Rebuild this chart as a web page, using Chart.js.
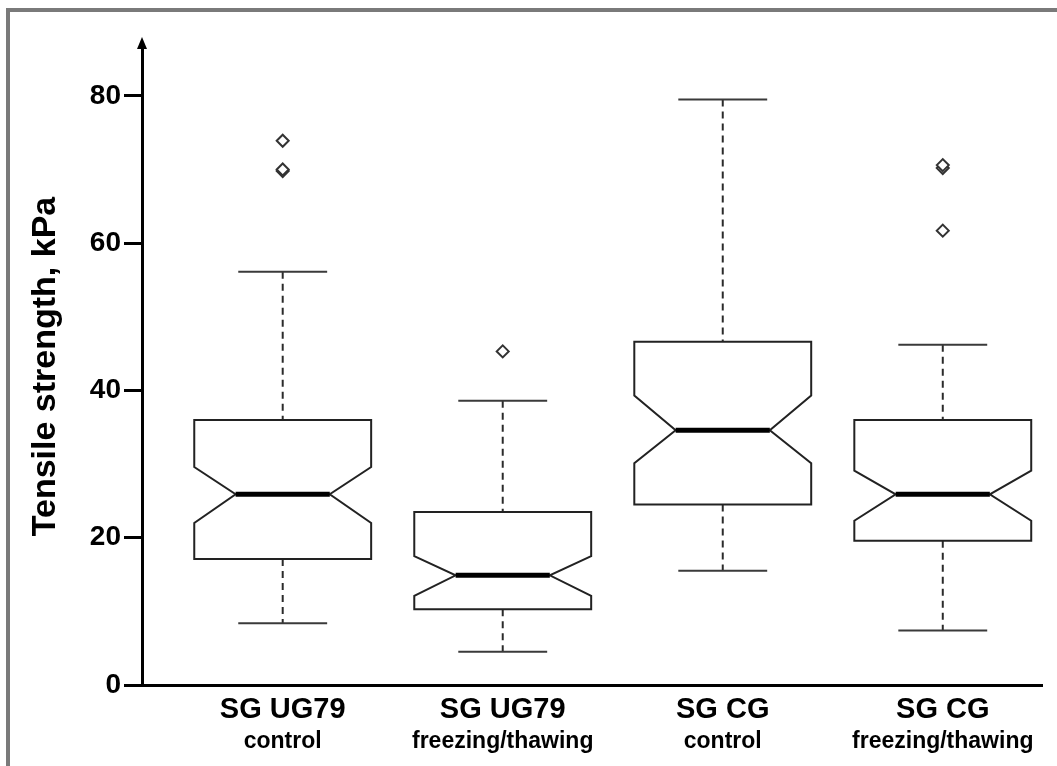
<!DOCTYPE html>
<html>
<head>
<meta charset="utf-8">
<script src="https://cdn.jsdelivr.net/npm/chart.js@4/dist/chart.umd.min.js"></script>
<style>
  html, body { margin: 0; padding: 0; background: #fff; }
  #frame {
    position: absolute; left: 6px; top: 8px; right: 0; bottom: 0;
    border-left: 4px solid #7a7a7a; border-top: 4px solid #7a7a7a;
  }
  #c { position: absolute; left: 0; top: 0; }
</style>
</head>
<body>
<div id="frame"></div>
<canvas id="c" width="1057" height="766"></canvas>
<script>
// Soil group and treatment for each box
const groupNames = ['SG UG79', 'SG UG79', 'SG CG', 'SG CG'];
const treatments = ['control', 'freezing/thawing', 'control', 'freezing/thawing'];

// Box statistics, tensile strength in kPa
const whiskerLow  = [8.4, 4.5, 15.5, 7.4];
const quartile1   = [17.1, 10.3, 24.5, 19.6];
const notchLow    = [22.0, 12.1, 30.1, 22.3];
const medians     = [25.9, 14.9, 34.6, 25.9];
const notchHigh   = [29.6, 17.5, 39.3, 29.1];
const quartile3   = [36.0, 23.5, 46.6, 36.0];
const whiskerHigh = [56.1, 38.6, 79.5, 46.2];
const outliers    = [[73.9, 69.8, 70.0], [45.3], [], [70.2, 70.6, 61.7]];

const yTicks = [0, 20, 40, 60, 80];
const yTitle = 'Tensile strength, kPa';

const FONT = '"Liberation Sans", Arial, Helvetica, sans-serif';

// Outlier points as a scatter dataset
const outlierPoints = [];
outliers.forEach((vals, i) => vals.forEach(v => outlierPoints.push({ x: i + 1, y: v })));

function strokeLine(ctx, x1, y1, x2, y2) {
  ctx.beginPath();
  ctx.moveTo(x1, y1);
  ctx.lineTo(x2, y2);
  ctx.stroke();
}

// Notched box-and-whisker marks
const notchedBoxes = {
  id: 'notchedBoxes',
  beforeDatasetsDraw(chart) {
    const { ctx, scales: { x, y } } = chart;
    const unit = x.getPixelForValue(2) - x.getPixelForValue(1);
    const boxHalf = unit * 0.402;
    const notchHalf = unit * 0.214;
    const capHalf = unit * 0.202;
    const py = v => y.getPixelForValue(v);

    medians.forEach((m, i) => {
      const cx = x.getPixelForValue(i + 1);
      ctx.save();

      // dashed whiskers
      ctx.strokeStyle = '#2b2b2b';
      ctx.lineWidth = 2;
      ctx.setLineDash([7, 5]);
      strokeLine(ctx, cx, py(whiskerHigh[i]), cx, py(quartile3[i]));
      strokeLine(ctx, cx, py(quartile1[i]), cx, py(whiskerLow[i]));
      ctx.setLineDash([]);

      // whisker caps
      ctx.strokeStyle = '#3a3a3a';
      strokeLine(ctx, cx - capHalf, py(whiskerHigh[i]), cx + capHalf, py(whiskerHigh[i]));
      strokeLine(ctx, cx - capHalf, py(whiskerLow[i]), cx + capHalf, py(whiskerLow[i]));

      // notched box outline
      ctx.beginPath();
      ctx.moveTo(cx - boxHalf, py(quartile3[i]));
      ctx.lineTo(cx + boxHalf, py(quartile3[i]));
      ctx.lineTo(cx + boxHalf, py(notchHigh[i]));
      ctx.lineTo(cx + notchHalf, py(m));
      ctx.lineTo(cx + boxHalf, py(notchLow[i]));
      ctx.lineTo(cx + boxHalf, py(quartile1[i]));
      ctx.lineTo(cx - boxHalf, py(quartile1[i]));
      ctx.lineTo(cx - boxHalf, py(notchLow[i]));
      ctx.lineTo(cx - notchHalf, py(m));
      ctx.lineTo(cx - boxHalf, py(notchHigh[i]));
      ctx.closePath();
      ctx.fillStyle = '#ffffff';
      ctx.fill();
      ctx.strokeStyle = '#222';
      ctx.lineWidth = 2;
      ctx.lineJoin = 'miter';
      ctx.stroke();

      // median
      ctx.strokeStyle = '#000';
      ctx.lineWidth = 5;
      ctx.lineCap = 'butt';
      strokeLine(ctx, cx - notchHalf, py(m), cx + notchHalf, py(m));
      ctx.restore();
    });
  },
  afterDraw(chart) {
    const { ctx, chartArea, scales: { x } } = chart;
    ctx.save();
    // arrow head on top of the value axis
    const ax = chartArea.left;
    ctx.fillStyle = '#000';
    ctx.beginPath();
    ctx.moveTo(ax, chartArea.top - 11);
    ctx.lineTo(ax + 5, chartArea.top + 1);
    ctx.lineTo(ax - 5, chartArea.top + 1);
    ctx.closePath();
    ctx.fill();

    // two-line category labels
    ctx.fillStyle = '#000';
    ctx.textAlign = 'center';
    ctx.textBaseline = 'alphabetic';
    groupNames.forEach((g, i) => {
      const cx = x.getPixelForValue(i + 1);
      ctx.font = 'bold 29px ' + FONT;
      ctx.fillText(g, cx, chartArea.bottom + 33);
      ctx.font = 'bold 23px ' + FONT;
      ctx.fillText(treatments[i], cx, chartArea.bottom + 63);
    });
    ctx.restore();
  }
};

new Chart(document.getElementById('c'), {
  type: 'scatter',
  data: {
    datasets: [{
      data: outlierPoints,
      pointStyle: 'rectRot',
      pointRadius: 6,
      pointHoverRadius: 6,
      borderWidth: 2,
      borderColor: '#333',
      backgroundColor: '#fff'
    }]
  },
  options: {
    responsive: false,
    animation: false,
    devicePixelRatio: 1,
    layout: { padding: { left: 0, right: 15, top: 48, bottom: 0 } },
    plugins: { legend: { display: false }, tooltip: { enabled: false } },
    scales: {
      x: {
        type: 'linear',
        min: 0.3605,
        max: 4.451,
        grid: { display: false },
        ticks: { display: false },
        border: { display: true, width: 3, color: '#000' },
        afterFit(s) { s.height = 81; }
      },
      y: {
        min: 0,
        max: 86.5,
        afterBuildTicks(s) { s.ticks = yTicks.map(v => ({ value: v })); },
        ticks: {
          font: { family: FONT, size: 28, weight: 'bold' },
          color: '#000',
          padding: 3
        },
        grid: {
          drawOnChartArea: false,
          drawTicks: true,
          tickLength: 18,
          tickWidth: 3,
          tickColor: '#000'
        },
        border: { display: true, width: 3, color: '#000' },
        title: {
          display: true,
          text: yTitle,
          color: '#000',
          font: { family: FONT, size: 34, weight: 'bold' },
          padding: { top: 25, bottom: 0 }
        },
        afterFit(s) { s.width = 142; }
      }
    }
  },
  plugins: [notchedBoxes]
});
</script>
</body>
</html>
